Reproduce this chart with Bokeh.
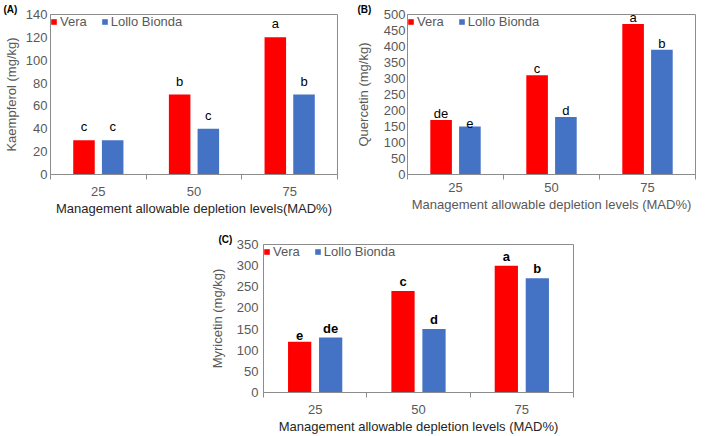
import numpy as np
from bokeh.plotting import figure
from bokeh.models import Range1d, FixedTicker, Title, ColumnDataSource, Spacer
from bokeh.transform import dodge
from bokeh.layouts import column, row
from bokeh.embed import file_html
from bokeh.resources import INLINE
from bokeh.core.properties import value

# ---- data ----
levels = ["25", "50", "75"]

kaempferol_vera = [30, 70, 120]
kaempferol_lollo = [30, 40, 70]
kaempferol_vera_sig = ["c", "b", "a"]
kaempferol_lollo_sig = ["c", "c", "b"]

quercetin_vera = [170, 310, 470]
quercetin_lollo = [150, 180, 390]
quercetin_vera_sig = ["de", "c", "a"]
quercetin_lollo_sig = ["e", "d", "b"]

myricetin_vera = [120, 240, 300]
myricetin_lollo = [130, 150, 270]
myricetin_vera_sig = ["e", "c", "a"]
myricetin_lollo_sig = ["de", "d", "b"]

series_names = ["Vera", "Lollo Bionda"]

FONT = "Liberation Sans"
RED = "#FF0000"
BLUE = "#4472C4"
FRAME = "#8c8c8c"
TICK = "#595959"


def panel(tag, ytitle, xtitle, vera, lollo, vsig, lsig, ymax, ystep,
          width, height, bl, br, bt, bb, bold, xtitle_color, tag_dx, tag_lh,
          label_off, xstand, ystand, ytitle_stand):
    n = len(levels)
    pos = list(np.arange(n) + 0.5)
    src = ColumnDataSource(dict(x=pos, vera=vera, lollo=lollo, vsig=vsig, lsig=lsig))
    p = figure(width=width, height=height, output_backend="svg", toolbar_location=None,
               x_range=Range1d(0, n), y_range=Range1d(0, ymax),
               min_border_left=bl, min_border_right=br, min_border_top=bt, min_border_bottom=bb)
    p.background_fill_color = "white"
    p.border_fill_color = "white"
    p.outline_line_color = FRAME
    p.outline_line_width = 1
    p.xgrid.visible = False
    p.ygrid.visible = False

    bw = 0.225
    off = 0.15
    p.vbar(x=dodge("x", -off), top="vera", width=bw, source=src, color=RED,
           line_color=None, legend_label=series_names[0])
    p.vbar(x=dodge("x", off), top="lollo", width=bw, source=src, color=BLUE,
           line_color=None, legend_label=series_names[1])
    style = "bold" if bold else "normal"
    p.text(x=dodge("x", -off), y="vera", text="vsig", source=src, text_align="center",
           text_baseline="bottom", y_offset=-label_off, text_font=value(FONT),
           text_font_size="13px", text_font_style=style, text_color="black")
    p.text(x=dodge("x", off), y="lollo", text="lsig", source=src, text_align="center",
           text_baseline="bottom", y_offset=-label_off, text_font=value(FONT),
           text_font_size="13px", text_font_style=style, text_color="black")

    # x axis
    xa = p.xaxis[0]
    xa.ticker = FixedTicker(ticks=pos, minor_ticks=list(range(n + 1)))
    xa.major_label_overrides = {pv: lv for pv, lv in zip(pos, levels)}
    xa.major_tick_line_color = None
    xa.major_tick_out = 0
    xa.major_tick_in = 0
    xa.minor_tick_line_color = FRAME
    xa.minor_tick_in = 0
    xa.minor_tick_out = 5
    xa.axis_line_color = FRAME
    xa.major_label_text_font = FONT
    xa.major_label_text_font_size = "13px"
    xa.major_label_text_color = TICK
    xa.major_label_standoff = xstand
    xa.axis_label = xtitle
    xa.axis_label_text_font = FONT
    xa.axis_label_text_font_size = "13px"
    xa.axis_label_text_font_style = "normal"
    xa.axis_label_text_color = xtitle_color
    xa.axis_label_standoff = 2

    # y axis
    ya = p.yaxis[0]
    ya.ticker = FixedTicker(ticks=list(range(0, ymax + 1, ystep)))
    ya.major_tick_line_color = None
    ya.major_tick_out = 0
    ya.major_tick_in = 0
    ya.minor_tick_line_color = None
    ya.minor_tick_out = 0
    ya.minor_tick_in = 0
    ya.axis_line_color = FRAME
    ya.major_label_text_font = FONT
    ya.major_label_text_font_size = "13px"
    ya.major_label_text_color = TICK
    ya.major_label_standoff = ystand
    ya.axis_label = ytitle
    ya.axis_label_text_font = FONT
    ya.axis_label_text_font_size = "13px"
    ya.axis_label_text_font_style = "normal"
    ya.axis_label_text_color = TICK
    ya.axis_label_standoff = ytitle_stand

    lg = p.legend[0]
    lg.location = "top_left"
    lg.orientation = "horizontal"
    lg.border_line_color = None
    lg.background_fill_alpha = 0
    lg.margin = 0
    lg.padding = 2
    lg.spacing = 14
    lg.glyph_width = 7
    lg.glyph_height = 7
    lg.label_height = 14
    lg.label_standoff = 3
    lg.label_text_font = FONT
    lg.label_text_font_size = "13px"
    lg.label_text_color = TICK

    p.add_layout(Title(text=tag, align="left", offset=tag_dx, standoff=0,
                       text_line_height=tag_lh,
                       text_font=FONT, text_font_size="10px", text_font_style="bold",
                       text_color="black"), "above")
    return p


pA = panel("(A)", "Kaempferol (mg/kg)", "Management allowable depletion levels(MAD%)",
           kaempferol_vera, kaempferol_lollo, kaempferol_vera_sig, kaempferol_lollo_sig,
           140, 20, 352, 218, 49, 15, 9, 43, False, "#262626", -47, 0.5, 6, 7, 3, 4)
pB = panel("(B)", "Quercetin (mg/kg)", "Management allowable depletion levels (MAD%)",
           quercetin_vera, quercetin_lollo, quercetin_vera_sig, quercetin_lollo_sig,
           500, 50, 357, 218, 55, 14, 14, 39, False, TICK, -50, 1.0, -1, 3, 2, 10)
pC = panel("(C)", "Myricetin (mg/kg)", "Management allowable depletion levels (MAD%)",
           myricetin_vera, myricetin_lollo, myricetin_vera_sig, myricetin_lollo_sig,
           350, 50, 375, 218, 58, 7, 26, 44, True, "#262626", -45, 1.0, 2, 7, 5, 9)

layout = column(row(pA, pB), row(Spacer(width=205, height=218), pC))

open("out.html", "w").write(file_html(layout, INLINE))
